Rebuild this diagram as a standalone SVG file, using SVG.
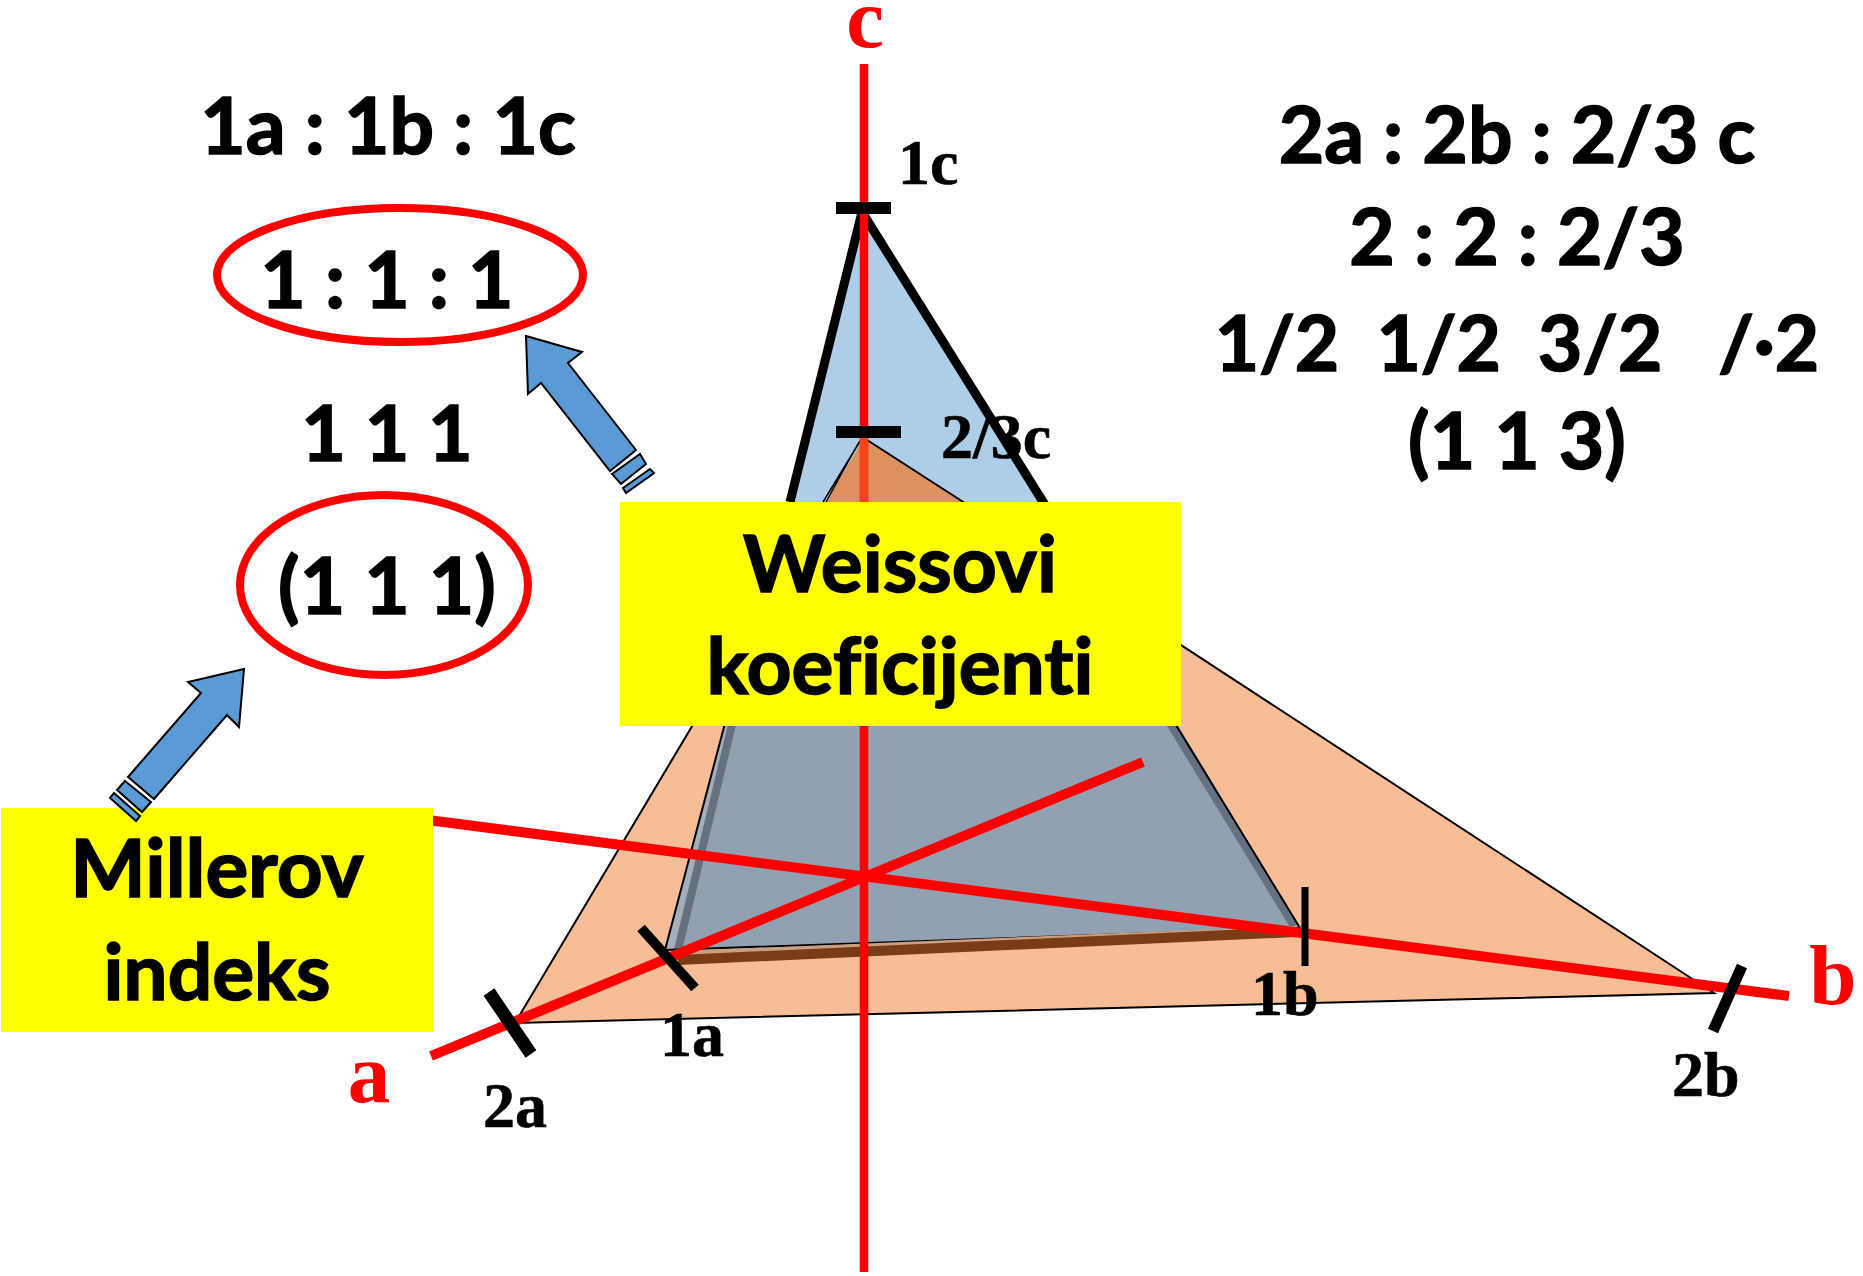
<svg xmlns="http://www.w3.org/2000/svg" width="1863" height="1276" viewBox="0 0 1863 1276">
<style>
.t{font-family:"Lato","Open Sans",sans-serif;font-weight:700;fill:#000;stroke:#000;stroke-width:1.6;text-anchor:middle;font-size:78.5px;font-variant-ligatures:none}
.s{font-family:"Liberation Serif",serif;font-weight:700;fill:#000;stroke:#000;stroke-width:.6;font-size:64px}
.r{font-family:"Liberation Serif",serif;font-weight:700;fill:#f00;font-size:85px;text-anchor:middle}
.ax{stroke:#f00;stroke-width:10;fill:none}
.tk{stroke:#000;fill:none}
.ar{fill:#5b9bd5;stroke:#000;stroke-width:2;stroke-linejoin:miter}
.el{fill:none;stroke:#f00;stroke-width:8}
.y{fill:#ff0}
</style>
<rect width="1863" height="1276" fill="#fff"/>
<g id="planes">
<polygon id="plane-113" points="864,438 1697,982 1714,993 515,1023" fill="#f6bd96" stroke="#000" stroke-width="2"/>
<polygon id="plane-111-top" points="864,212 790,502 723,726 1173,726 1040,502" fill="#aecde9"/>
<polygon points="864,438 962,502 1010,600 770,600 826,502" fill="#dd915e"/>
<path d="M862,438 L823,502 M859,442 L826,502" stroke="#000" stroke-width="1.5" fill="none"/>
<path d="M864,438 L971,507" stroke="#000" stroke-width="2" fill="none"/>
<polygon id="plane-111-low" points="728,712 1170,712 1300,928 665,951" fill="#92a1b1"/>
<polygon points="728,712 738,712 677,950 666,950" fill="#a5afbc"/>
<path d="M735,712 L678,950" stroke="#667080" stroke-width="8" fill="none"/>
<path d="M1163,712 L1294,926" stroke="#667080" stroke-width="8" fill="none"/>
<path d="M728,712 L665,950 L1300,928 L1168,712" stroke="#000" stroke-width="2" fill="none"/>
<path d="M680,953 L1296,928" stroke="#c99f80" stroke-width="4" fill="none"/>
<path d="M678,960 L1296,932" stroke="#7a3b17" stroke-width="10" fill="none"/>
<path d="M790,502 L862,212 L1045,505" stroke="#000" stroke-width="9" fill="none" stroke-linejoin="bevel"/>
</g>
<g id="connectors">
<path class="ax" stroke-width="8" style="stroke-width:8.5" d="M864,64 V1272"/>
<path d="M864,438 V502" stroke="#f64519" stroke-width="8.5"/>
<path class="ax" d="M431,1056 L1143,762"/>
<path class="ax" d="M420,819 L1789,996"/>
<path class="tk" stroke-width="13" d="M489,992 L531,1054"/>
<path class="tk" stroke-width="10" d="M641,928 L695,988"/>
<path class="tk" stroke-width="7" d="M1305,887 V966"/>
<path class="tk" stroke-width="11" d="M1742,966 L1713,1031"/>
<rect x="836" y="202" width="55" height="12"/>
<rect x="836" y="426" width="65" height="12"/>
</g>
<g id="axis-labels">
<text class="r" x="865" y="47">c</text>
<text class="r" x="369" y="1102">a</text>
<text class="r" x="1833" y="1004">b</text>
<text class="s" x="898" y="184">1c</text>
<text class="s" x="941" y="458">2/3c</text>
<text class="s" x="660" y="1056">1a</text>
<text class="s" x="483" y="1127">2a</text>
<text class="s" x="1251" y="1015">1b</text>
<text class="s" x="1672" y="1096">2b</text>
</g>
<g id="weiss-box">
<rect class="y" x="620" y="502" width="561" height="224"/>
<text class="t" x="900" y="592">Weissovi</text>
<text class="t" x="900" y="694">koeficijenti</text>
</g>
<g id="miller-box">
<rect class="y" x="1" y="808" width="432" height="224"/>
<text class="t" x="217" y="897" style="font-size:80px">Millerov</text>
<text class="t" x="217" y="1000">indeks</text>
</g>
<g id="weiss-ratio">
<text class="t" x="388" y="154">1a : 1b : 1c</text>
</g>
<g id="ellipse-111">
<ellipse class="el" cx="400" cy="275" rx="183" ry="67"/>
<text class="t" x="387" y="308">1 : 1 : 1</text>
</g>
<g id="miller-plain">
<text class="t" x="387" y="461" style="font-size:77px">1 1 1</text>
</g>
<g id="ellipse-miller">
<ellipse class="el" cx="384" cy="585" rx="144" ry="90"/>
<text class="t" x="387" y="614">(1 1 1)</text>
</g>
<g id="example-113">
<text class="t" x="1517" y="163">2a : 2b : 2/3 c</text>
<text class="t" x="1517" y="265">2 : 2 : 2/3</text>
<text class="t" x="1517" y="371" xml:space="preserve" style="font-size:76.5px">1/2  1/2  3/2   /·2</text>
<text class="t" x="1517" y="469">(1 1 3)</text>
</g>
<g id="arrow-weiss">
<polygon class="ar" points="526,336 582,352 568,363 636,450 610,471 541,383 528,394"/>
<polygon class="ar" points="612,474 640,454 646,464 621,484"/>
<polygon class="ar" points="623,488 650,469 654,473 626,493"/>
</g>
<g id="arrow-miller">
<polygon class="ar" points="244,669 188,682 201,693 128,777 154,799 227,715 239,727"/>
<polygon class="ar" points="125,781 151,802 142,812 117,790"/>
<polygon class="ar" points="114,793 140,816 136,821 110,798"/>
</g>
</svg>
